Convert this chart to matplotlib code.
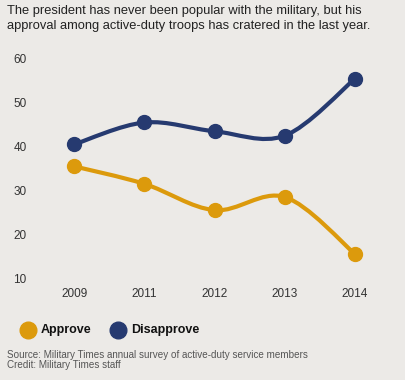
import numpy as np
import matplotlib
matplotlib.use('Agg')
import matplotlib.pyplot as plt
from matplotlib.path import Path
from matplotlib.patches import PathPatch

years = ['2009', '2011', '2012', '2013', '2014']
approve = [35.5, 31.5, 25.5, 28.5, 15.5]
disapprove = [40.5, 45.5, 43.5, 42.5, 55.5]
yticks = [10, 20, 30, 40, 50, 60]

bg = '#ECEAE7'
gold = '#DC9A0C'
navy = '#263A70'

plt.rcParams['font.family'] = ['Liberation Sans', 'DejaVu Sans']


def smooth_path(xs, ys, t=0.5):
    # catmull-rom style bezier segments through the data points
    xs = np.asarray(xs, float)
    ys = np.asarray(ys, float)
    n = len(xs)
    verts = [(xs[0], ys[0])]
    codes = [Path.MOVETO]
    for i in range(n - 1):
        i0 = max(i - 1, 0)
        i3 = min(i + 2, n - 1)
        c1 = (xs[i] + (xs[i + 1] - xs[i0]) * t / 3, ys[i] + (ys[i + 1] - ys[i0]) * t / 3)
        c2 = (xs[i + 1] - (xs[i3] - xs[i]) * t / 3, ys[i + 1] - (ys[i3] - ys[i]) * t / 3)
        verts += [c1, c2, (xs[i + 1], ys[i + 1])]
        codes += [Path.CURVE4] * 3
    return Path(verts, codes)


fig = plt.figure(figsize=(4.06, 3.8), dpi=100, facecolor=bg)
ax = fig.add_axes([0.096, 0.245, 0.865, 0.623], facecolor=bg)

x = np.arange(len(years))
for vals, col in [(approve, gold), (disapprove, navy)]:
    ax.add_patch(PathPatch(smooth_path(x, vals), facecolor='none', edgecolor=col,
                           lw=3.0, capstyle='round', zorder=2))
    ax.plot(x, vals, 'o', color=col, ms=10, zorder=3)

ax.set_xlim(-0.5, 4.5)
ax.set_ylim(8, 62)
ax.set_xticks(x)
ax.set_xticklabels(years)
ax.set_yticks(yticks)
for s in ax.spines.values():
    s.set_visible(False)
ax.tick_params(length=0, labelsize=8.5, labelcolor='#333333')
ax.tick_params(axis='y', pad=9)
ax.tick_params(axis='x', pad=1)

fig.text(0.018, 0.986, 'The president has never been popular with the military, but his\n'
         'approval among active-duty troops has cratered in the last year.',
         fontsize=9.25, color='#222222', va='top', ha='left', linespacing=1.3)

# legend
ly = 1 - 330 / 380
fig.lines.append(plt.Line2D([28 / 406], [ly], marker='o', ms=12, color=gold,
                            transform=fig.transFigure, figure=fig))
fig.text(41 / 406, ly, 'Approve', fontsize=9, fontweight='bold',
         color='#111111', va='center')
fig.lines.append(plt.Line2D([118 / 406], [ly], marker='o', ms=12, color=navy,
                            transform=fig.transFigure, figure=fig))
fig.text(131 / 406, ly, 'Disapprove', fontsize=9, fontweight='bold',
         color='#111111', va='center')

fig.text(7 / 406, 1 - 360 / 380, 'Source: Military Times annual survey of active-duty service members\n'
         'Credit: Military Times staff', fontsize=7.1, color='#555555', va='center',
         ha='left', linespacing=1.05)

fig.savefig('out.png', dpi=100, facecolor=bg)
